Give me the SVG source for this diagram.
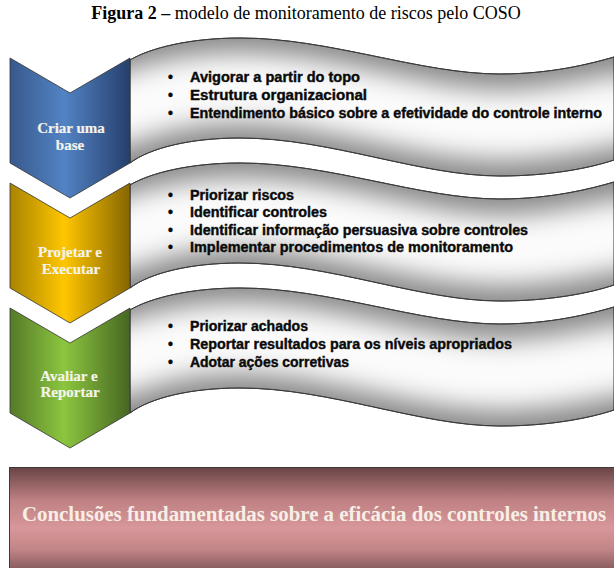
<svg xmlns="http://www.w3.org/2000/svg" width="614" height="568" viewBox="0 0 614 568">
<style>
.title{font-family:"Liberation Serif","Times New Roman",serif;font-size:18px;fill:#000}
.lbl{font-family:"Liberation Serif","Times New Roman",serif;font-size:15px;font-weight:bold;fill:#f4f4ec;text-anchor:middle;stroke:#f4f4ec;stroke-width:0.2}
.bul{font-family:"Liberation Sans",Arial,sans-serif;font-size:14px;font-weight:bold;fill:#0a0a0a;stroke:#0a0a0a;stroke-width:0.4}
.chev{stroke:#333;stroke-width:0.8}
.band{fill:#8a8a8a;stroke:#3a3a3a;stroke-width:1}
.hl{fill:none;stroke:#fbfbfb;stroke-width:70;filter:url(#blur)}
.box{font-family:"Liberation Serif","Times New Roman",serif;font-size:20px;font-weight:bold;fill:#f7efe6}
</style>
<defs>
<linearGradient id="gBlue" x1="0" y1="0" x2="1" y2="0">
<stop offset="0" stop-color="#38598c"/><stop offset="0.45" stop-color="#5283c4"/><stop offset="1" stop-color="#263f6c"/>
</linearGradient>
<linearGradient id="gGold" x1="0" y1="0" x2="1" y2="0">
<stop offset="0" stop-color="#a88300"/><stop offset="0.45" stop-color="#ffc600"/><stop offset="1" stop-color="#866600"/>
</linearGradient>
<linearGradient id="gGreen" x1="0" y1="0" x2="1" y2="0">
<stop offset="0" stop-color="#557a28"/><stop offset="0.45" stop-color="#8cc63f"/><stop offset="1" stop-color="#466622"/>
</linearGradient>
<linearGradient id="gBox" x1="0" y1="0" x2="0" y2="1">
<stop offset="0" stop-color="#6a4446"/><stop offset="0.3" stop-color="#bf8183"/><stop offset="0.55" stop-color="#d8979a"/><stop offset="0.75" stop-color="#c28486"/><stop offset="1" stop-color="#6d4a4c"/>
</linearGradient>
<filter id="blur" filterUnits="userSpaceOnUse" x="0" y="0" width="614" height="568">
<feGaussianBlur stdDeviation="13"/>
</filter>
<path id="bandShape" d="M130,60 C150,48 190,38 240,38 C330,38 420,74 500,74 C550,74 590,64 614,57 L614,160 C590,168 550,176 500,176 C420,176 330,138 240,138 C190,138 150,148 130,163 Z"/>
<path id="midLine" d="M100,118 C150,98 190,88 240,88 C330,88 420,125 500,125 C550,125 590,114 640,106"/>
<clipPath id="clipBand"><use href="#bandShape"/></clipPath>
</defs>
<rect width="614" height="568" fill="#fff"/>

<g id="title">
<text class="title" x="306" y="19" text-anchor="middle"><tspan font-weight="bold">Figura 2 –</tspan> modelo de monitoramento de riscos pelo COSO</text>
</g>

<g id="band-1">
<use href="#bandShape" class="band"/>
<g clip-path="url(#clipBand)"><use href="#midLine" class="hl"/></g>
<use href="#bandShape" fill="none" stroke="#3a3a3a" stroke-width="1"/>
<text class="bul" x="168" y="82">•</text><text class="bul" x="190" y="82" textLength="170" lengthAdjust="spacingAndGlyphs">Avigorar a partir do topo</text>
<text class="bul" x="168" y="100">•</text><text class="bul" x="190" y="100" textLength="177" lengthAdjust="spacingAndGlyphs">Estrutura organizacional</text>
<text class="bul" x="168" y="118">•</text><text class="bul" x="190" y="118" textLength="412" lengthAdjust="spacingAndGlyphs">Entendimento básico sobre a efetividade do controle interno</text>
</g>

<g id="band-2" transform="translate(0,125)">
<use href="#bandShape" class="band"/>
<g clip-path="url(#clipBand)"><use href="#midLine" class="hl"/></g>
<use href="#bandShape" fill="none" stroke="#3a3a3a" stroke-width="1"/>
<text class="bul" x="168" y="75">•</text><text class="bul" x="190" y="75" textLength="104" lengthAdjust="spacingAndGlyphs">Priorizar riscos</text>
<text class="bul" x="168" y="92">•</text><text class="bul" x="190" y="92" textLength="137" lengthAdjust="spacingAndGlyphs">Identificar controles</text>
<text class="bul" x="168" y="110">•</text><text class="bul" x="190" y="110" textLength="338" lengthAdjust="spacingAndGlyphs">Identificar informação persuasiva sobre controles</text>
<text class="bul" x="168" y="127">•</text><text class="bul" x="190" y="127" textLength="323" lengthAdjust="spacingAndGlyphs">Implementar procedimentos de monitoramento</text>
</g>

<g id="band-3" transform="translate(0,250)">
<use href="#bandShape" class="band"/>
<g clip-path="url(#clipBand)"><use href="#midLine" class="hl"/></g>
<use href="#bandShape" fill="none" stroke="#3a3a3a" stroke-width="1"/>
<text class="bul" x="168" y="81">•</text><text class="bul" x="190" y="81" textLength="118" lengthAdjust="spacingAndGlyphs">Priorizar achados</text>
<text class="bul" x="168" y="99">•</text><text class="bul" x="190" y="99" textLength="322" lengthAdjust="spacingAndGlyphs">Reportar resultados para os níveis apropriados</text>
<text class="bul" x="168" y="117">•</text><text class="bul" x="190" y="117" textLength="159" lengthAdjust="spacingAndGlyphs">Adotar ações corretivas</text>
</g>

<g id="chevron-1">
<polygon class="chev" fill="url(#gBlue)" points="10,58 70,93 130,58 130,163 70,198 10,163"/>
<text class="lbl" x="71" y="133">Criar uma</text>
<text class="lbl" x="70" y="150">base</text>
</g>

<g id="chevron-2">
<polygon class="chev" fill="url(#gGold)" points="10,183 70,218 130,183 130,288 70,323 10,288"/>
<text class="lbl" x="70" y="257">Projetar e</text>
<text class="lbl" x="71" y="274">Executar</text>
</g>

<g id="chevron-3">
<polygon class="chev" fill="url(#gGreen)" points="10,308 70,343 130,308 130,413 70,448 10,413"/>
<text class="lbl" x="69" y="381">Avaliar e</text>
<text class="lbl" x="70" y="397">Reportar</text>
</g>

<g id="conclusion">
<rect x="9.5" y="467.5" width="620" height="110" fill="url(#gBox)" stroke="#3a3a3a" stroke-width="1"/>
<text class="box" x="22" y="521" textLength="584" lengthAdjust="spacingAndGlyphs">Conclusões fundamentadas sobre a eficácia dos controles internos</text>
</g>
</svg>
